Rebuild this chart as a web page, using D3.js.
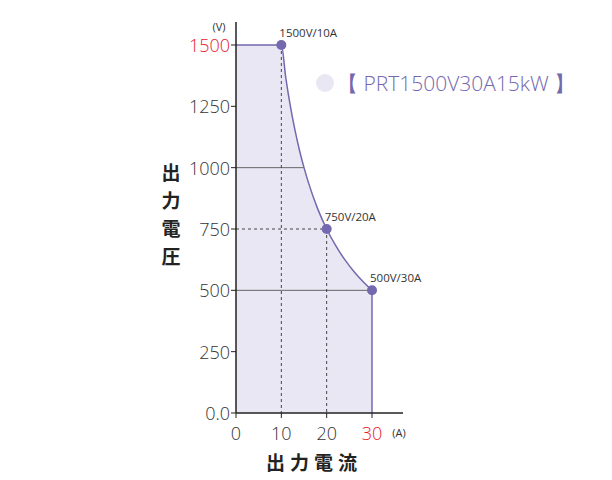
<!DOCTYPE html>
<html><head><meta charset="utf-8">
<script src="https://cdn.jsdelivr.net/npm/d3@7"></script>
<style>body{margin:0;background:#fff;font-family:"Open Sans","DejaVu Sans",sans-serif;}</style>
</head><body>
<script>
// output envelope (A, V)
var currents = [0, 10, 11, 12, 13, 14, 15, 16, 18, 20, 22, 24, 26, 28, 30];
var voltages = [1500, 1500, 1364, 1250, 1154, 1071, 1000, 938, 833, 750, 682, 625, 577, 536, 500];
var markI = [10, 20, 30];
var markV = [1500, 750, 500];
var markLabels = ["1500V/10A", "750V/20A", "500V/30A"];
var yTicks = [0, 250, 500, 750, 1000, 1250, 1500];
var xTicks = [0, 10, 20, 30];

var w = 612, h = 480;
var x = d3.scaleLinear().domain([0, 30]).range([236, 372]);
var y = d3.scaleLinear().domain([0, 1500]).range([413, 45]);
var purple = "#7468ae";

var svg = d3.select("body").append("svg").attr("width", w).attr("height", h);

var pts = currents.map(function(c, i) { return [c, voltages[i]]; });
var area = d3.area().x(function(d) { return x(d[0]); }).y0(y(0)).y1(function(d) { return y(d[1]); }).curve(d3.curveMonotoneX);
var line = d3.line().x(function(d) { return x(d[0]); }).y(function(d) { return y(d[1]); }).curve(d3.curveMonotoneX);

svg.append("path").attr("d", area(pts)).attr("fill", "#e9e7f3");

// guide lines
svg.append("line").attr("x1", x(0)).attr("x2", x(15)).attr("y1", y(1000)).attr("y2", y(1000)).attr("stroke", "#666").attr("stroke-width", 1);
svg.append("line").attr("x1", x(0)).attr("x2", x(30)).attr("y1", y(500)).attr("y2", y(500)).attr("stroke", "#666").attr("stroke-width", 1);
svg.append("line").attr("x1", x(0)).attr("x2", x(20)).attr("y1", y(750)).attr("y2", y(750)).attr("stroke", "#444").attr("stroke-dasharray", "3,3");
svg.append("line").attr("x1", x(10)).attr("x2", x(10)).attr("y1", y(1500)).attr("y2", y(0)).attr("stroke", "#444").attr("stroke-dasharray", "3,3");
svg.append("line").attr("x1", x(20)).attr("x2", x(20)).attr("y1", y(750)).attr("y2", y(0)).attr("stroke", "#444").attr("stroke-dasharray", "3,3");

svg.append("path").attr("d", line(pts)).attr("fill", "none").attr("stroke", purple).attr("stroke-width", 1.5);
svg.append("line").attr("x1", x(30)).attr("x2", x(30)).attr("y1", y(500)).attr("y2", y(0)).attr("stroke", purple).attr("stroke-width", 1.5);

// axes
svg.append("line").attr("x1", x(0)).attr("x2", x(0)).attr("y1", 22).attr("y2", y(0)).attr("stroke", "#222").attr("stroke-width", 1.5);
svg.append("line").attr("x1", x(0)).attr("x2", 403).attr("y1", y(0)).attr("y2", y(0)).attr("stroke", "#222").attr("stroke-width", 1.5);

svg.selectAll(".yt").data(yTicks).enter().append("line")
    .attr("x1", x(0) - 5).attr("x2", x(0)).attr("y1", y).attr("y2", y).attr("stroke", "#222");
svg.selectAll(".yl").data(yTicks).enter().append("text")
    .attr("x", x(0) - 6).attr("y", function(d) { return y(d) + 7; })
    .attr("text-anchor", "end").attr("font-size", 18).attr("font-weight", 300)
    .attr("fill", function(d) { return d === 1500 ? "#e8202a" : "#333"; })
    .text(function(d) { return d === 0 ? "0.0" : d; });
svg.selectAll(".xt").data(xTicks).enter().append("line")
    .attr("x1", x).attr("x2", x).attr("y1", y(0)).attr("y2", y(0) + 5).attr("stroke", "#222");
svg.selectAll(".xl").data(xTicks).enter().append("text")
    .attr("x", x).attr("y", 440).attr("text-anchor", "middle").attr("font-size", 18).attr("font-weight", 300)
    .attr("fill", function(d) { return d === 30 ? "#e8202a" : "#333"; })
    .text(function(d) { return d; });

svg.append("text").attr("x", 219).attr("y", 31).attr("text-anchor", "middle").attr("font-size", 11).attr("fill", "#333").text("(V)");
svg.append("text").attr("x", 399).attr("y", 437).attr("text-anchor", "middle").attr("font-size", 11).attr("fill", "#333").text("(A)");

// markers
svg.selectAll(".mk").data(markI).enter().append("circle")
    .attr("cx", x).attr("cy", function(d, i) { return y(markV[i]); }).attr("r", 5).attr("fill", purple);
svg.selectAll(".ml").data(markI).enter().append("text")
    .attr("x", function(d) { return x(d) - 2; }).attr("y", function(d, i) { return y(markV[i]) - 8; })
    .attr("font-size", 11.5).attr("fill", "#333").text(function(d, i) { return markLabels[i]; });

// axis titles
var ja = '"Noto Sans CJK JP", sans-serif';
["出", "力", "電", "圧"].forEach(function(c, i) {
    svg.append("text").attr("x", 171).attr("y", 180 + i * 28).attr("text-anchor", "middle")
        .attr("font-family", ja).attr("font-weight", "bold").attr("font-size", 19).attr("fill", "#222").text(c);
});
svg.append("text").attr("x", 314).attr("y", 470).attr("text-anchor", "middle")
    .attr("font-family", ja).attr("font-weight", "bold").attr("font-size", 19).attr("letter-spacing", 5)
    .attr("fill", "#222").text("出力電流");

// legend
svg.append("circle").attr("cx", 325).attr("cy", 83).attr("r", 9).attr("fill", "#e9e7f3");
svg.append("text").attr("x", 337).attr("y", 91).attr("font-size", 21).attr("font-weight", 300).attr("fill", purple).text("【 PRT1500V30A15kW 】");
</script>
</body></html>
